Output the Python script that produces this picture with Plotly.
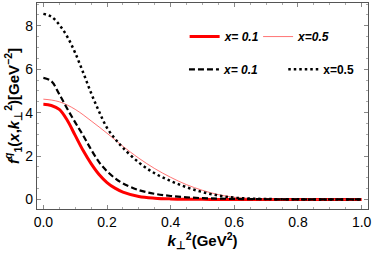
import plotly.graph_objects as go

k2 = [0.0, 0.025, 0.05, 0.075, 0.1, 0.125, 0.15, 0.175, 0.2, 0.225, 0.25, 0.3, 0.35,
      0.4, 0.45, 0.5, 0.55, 0.6, 0.65, 0.7, 0.8, 0.9, 1.0]

red_thick = [4.38, 4.33, 4.15, 3.65, 2.95, 2.25, 1.65, 1.15, 0.78, 0.52, 0.34, 0.14, 0.06,
             0.025, 0.01, 0.005, 0.0, 0.0, 0.0, 0.0, 0.0, 0.0, 0.0]
red_thin = [4.62, 4.58, 4.5, 4.35, 4.15, 3.9, 3.62, 3.34, 3.05, 2.75, 2.45, 1.9, 1.42,
            1.02, 0.68, 0.42, 0.22, 0.1, 0.05, 0.02, 0.005, 0.0, 0.0]
black_dash = [5.6, 5.45, 4.85, 4.18, 3.55, 2.95, 2.3, 1.72, 1.3, 0.98, 0.74, 0.43, 0.26,
              0.16, 0.1, 0.06, 0.04, 0.025, 0.015, 0.01, 0.0, 0.0, 0.0]
black_dot = [8.55, 8.42, 8.05, 7.5, 6.75, 5.85, 4.9, 4.05, 3.3, 2.8, 2.38, 1.7, 1.2,
             0.85, 0.56, 0.34, 0.18, 0.08, 0.04, 0.02, 0.005, 0.0, 0.0]

x_ticks = [0.0, 0.2, 0.4, 0.6, 0.8, 1.0]
x_tick_text = ["0.0", "0.2", "0.4", "0.6", "0.8", "1.0"]
y_ticks = [0, 2, 4, 6, 8]

fig = go.Figure()
fig.add_trace(go.Scatter(x=k2, y=red_thick, mode="lines", line=dict(color="#ff0000", width=3, shape="spline"),
                         name="<b><i>x= 0.1</i></b>", legend="legend"))
fig.add_trace(go.Scatter(x=k2, y=red_thin, mode="lines", line=dict(color="#ff5050", width=0.8, shape="spline"),
                         name="<b><i>x=0.5</i></b>", legend="legend2"))
fig.add_trace(go.Scatter(x=k2, y=black_dash, mode="lines",
                         line=dict(color="black", width=2.2, dash="6px,3px", shape="spline"),
                         name="<b><i>x= 0.1</i></b>", legend="legend3"))
fig.add_trace(go.Scatter(x=k2, y=black_dot, mode="lines",
                         line=dict(color="black", width=2.5, dash="2.5px,3px", shape="spline"),
                         name="<b>x=0.5</b>", legend="legend4"))

axis_common = dict(showline=True, linecolor="#555555", linewidth=1.2, mirror="ticks",
                   ticks="inside", ticklen=4, tickcolor="#888888", showgrid=False, zeroline=False,
                   automargin=False,
                   tickfont=dict(family="Liberation Sans", size=14, color="black"))

fig.update_xaxes(range=[-0.02, 1.02], tickvals=x_ticks, ticktext=x_tick_text,
                 minor=dict(dtick=0.05, ticklen=2, tickcolor="#aaaaaa", ticks="inside"),
                 title=dict(text="<b><i>k</i><sub>⊥</sub><sup>2</sup>(GeV<sup>2</sup>)</b>",
                            font=dict(family="Liberation Sans", size=15, color="black"), standoff=4),
                 **axis_common)
fig.update_yaxes(range=[-0.44, 9.05], tickvals=y_ticks,
                 minor=dict(dtick=0.5, ticklen=2, tickcolor="#aaaaaa", ticks="inside"),
                 title=dict(text="<b><i>f</i><sup><i>q</i></sup><sub>1</sub>(<i>x</i>,<i>k</i><sub>⊥</sub><sup>2</sup>)[GeV<sup>−2</sup>]</b>",
                            font=dict(family="Liberation Sans", size=15, color="black"), standoff=2),
                 **axis_common)

legend_font = dict(family="Liberation Sans", size=12, color="black")
def leg(x, y):
    return dict(x=x, y=y, xanchor="left", yanchor="middle", font=legend_font,
                bgcolor="rgba(0,0,0,0)", borderwidth=0, itemwidth=30)

fig.update_layout(
    width=374, height=257,
    margin=dict(l=37, r=6, t=3, b=48),
    paper_bgcolor="white", plot_bgcolor="white",
    showlegend=True,
    legend=leg(0.446, 0.837),
    legend2=leg(0.668, 0.837),
    legend3=leg(0.444, 0.678),
    legend4=leg(0.744, 0.678),
)

fig.write_html("out.html", config={"displayModeBar": False},
               post_script="document.body.style.margin='0';document.body.style.padding='0';")
